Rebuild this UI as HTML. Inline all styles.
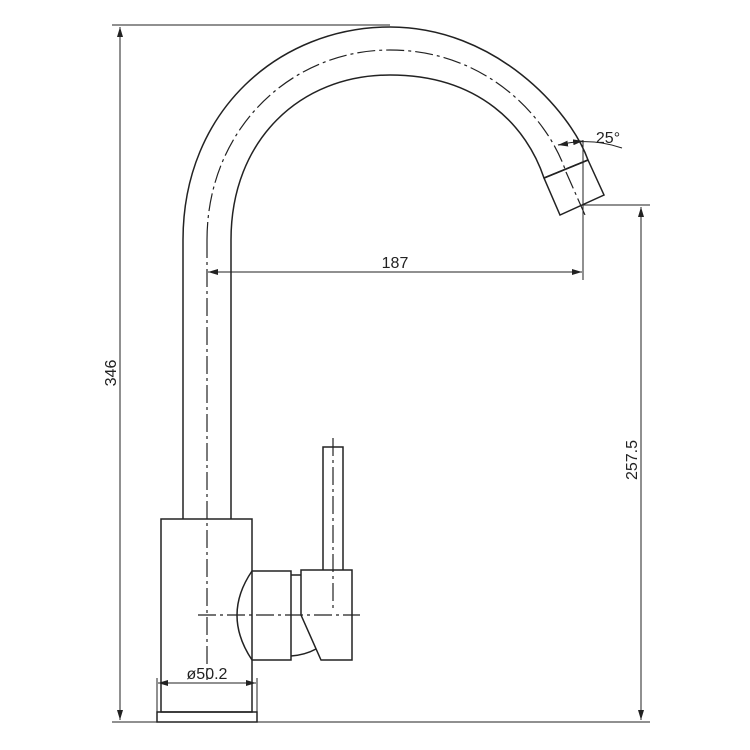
<!DOCTYPE html>
<html><head><meta charset="utf-8"><style>html,body{margin:0;padding:0;background:#fff}svg{display:block}</style></head>
<body>
<svg width="750" height="750" viewBox="0 0 750 750" xmlns="http://www.w3.org/2000/svg">
<defs>
<marker id="a" viewBox="0 0 10 6" refX="10" refY="3" markerWidth="10" markerHeight="6" orient="auto-start-reverse" markerUnits="userSpaceOnUse"><path d="M0,0 L10,3 L0,6 z" fill="#222"/></marker>
</defs>
<g fill="none" stroke="#222" stroke-width="1.5">
<path d="M183,519 L183,240 C183,110 280,27 390,27 C495,27 570,110 588,160"/>
<path d="M231,519 L231,240 C231,140 300,75 390,75 C480,75 527,127 544,178"/>
<path d="M588,160 L604,195 L560,215 L544,178 Z"/>
<path d="M544,178 L588,160"/>
<rect x="161" y="519" width="91" height="193"/>
<rect x="157" y="712" width="100" height="10"/>
<path d="M252,571 Q222,615 252,660"/>
<path d="M252,571 L291,571 L291,660 L252,660"/>
<path d="M291,575 L301,575 M291,656 Q305,655 316,649"/>
<path d="M301,570 L352,570 L352,660 L321,660 L301,615 Z"/>
<path d="M323,570 L323,447 L343,447 L343,570"/>
</g>
<g fill="none" stroke="#222" stroke-width="1.2" stroke-dasharray="18,4,3,4">
<path d="M207,240 C207,130 290,50 390,50 C487,50 548,118 566,172 L585,215"/>
<path d="M207,240 L207,680"/>
<path d="M198,615 L360,615"/>
<path d="M333,438 L333,612"/>
</g>
<g fill="none" stroke="#222" stroke-width="1">
<path d="M112,25 L390,25"/>
<path d="M112,722 L650,722"/>
<path d="M120,27 L120,720" marker-start="url(#a)" marker-end="url(#a)"/>
<path d="M583,140 L583,280"/>
<path d="M208,272 L582,272" marker-start="url(#a)" marker-end="url(#a)"/>
<path d="M583,205 L650,205"/>
<path d="M641,207 L641,720" marker-start="url(#a)" marker-end="url(#a)"/>
<path d="M558,145 Q590,137 622,148"/>
<path d="M565,144 L558,145" marker-end="url(#a)"/>
<path d="M575,142 L583,141" marker-end="url(#a)"/>
<path d="M157,678 L157,722 M257,678 L257,722"/>
<path d="M158,683 L256,683" marker-start="url(#a)" marker-end="url(#a)"/>
</g>
<g font-family="Liberation Sans, sans-serif" font-size="16" fill="#222">
<text x="395" y="268" text-anchor="middle">187</text>
<text x="608" y="143" text-anchor="middle">25°</text>
<text x="207" y="679" text-anchor="middle">ø50.2</text>
<text transform="translate(116,373) rotate(-90)" text-anchor="middle">346</text>
<text transform="translate(637,460) rotate(-90)" text-anchor="middle">257.5</text>
</g>
</svg>
</body></html>
